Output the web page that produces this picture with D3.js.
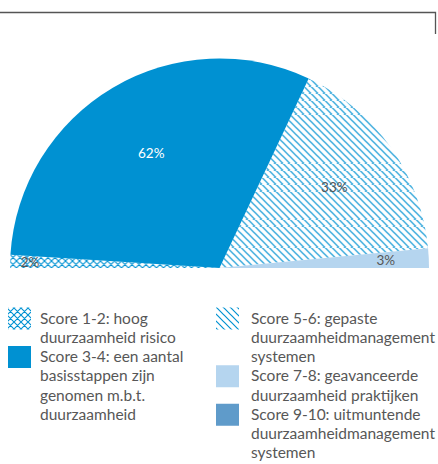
<!DOCTYPE html>
<html>
<head>
<meta charset="utf-8">
<script src="https://cdn.jsdelivr.net/npm/d3@7"></script>
<style>
  html, body { margin: 0; padding: 0; background: #fff; }
  svg { display: block; }
</style>
</head>
<body>
<svg id="chart" width="438" height="464"></svg>
<script>
// Score categories and share of respondents (%), half-pie
const categories = ["Score 1-2", "Score 3-4", "Score 5-6", "Score 7-8", "Score 9-10"];
const values = [2, 62, 33, 3, 0];
const legendLabels = [
  ["Score 1-2: hoog", "duurzaamheid risico"],
  ["Score 3-4: een aantal", "basisstappen zijn", "genomen m.b.t.", "duurzaamheid"],
  ["Score 5-6: gepaste", "duurzaamheidmanagement", "systemen"],
  ["Score 7-8: geavanceerde", "duurzaamheid praktijken"],
  ["Score 9-10: uitmuntende", "duurzaamheidmanagement", "systemen"]
];

const blue = "#0091d2";
const fills = ["url(#cross)", blue, "url(#diag)", "#b5d5ef", "#5f9bca"];
const labelColors = ["#555", "#fff", "#555", "#555", "#555"];
const labelRadius = [0.905, 0.64, 0.67, 0.795];
const textGray = "#575757";
const font = "Lato, 'Open Sans', sans-serif";

const svg = d3.select("#chart");
const defs = svg.append("defs");

// diagonal hatch "\"
const diag = defs.append("pattern").attr("id", "diag")
  .attr("patternUnits", "userSpaceOnUse").attr("width", 7).attr("height", 7);
diag.append("path").attr("d", "M-1,-1 L8,8 M-8,-1 L1,8 M6,-1 L15,8")
  .attr("stroke", blue).attr("stroke-width", 1.2).attr("fill", "none");

// cross hatch (diamond lattice)
const cross = defs.append("pattern").attr("id", "cross")
  .attr("patternUnits", "userSpaceOnUse").attr("width", 7).attr("height", 7);
cross.append("path").attr("d", "M-1,-1 L8,8 M-8,-1 L1,8 M6,-1 L15,8 M-1,8 L8,-1 M-8,8 L1,-1 M6,8 L15,-1")
  .attr("stroke", blue).attr("stroke-width", 1.1).attr("fill", "none");

// frame line at top
svg.append("path").attr("d", "M0,12.5 H435.5 V34")
  .attr("stroke", "#555").attr("stroke-width", 1.3).attr("fill", "none");

const cx = 219.5, cy = 268, R = 209.5;
const pie = d3.pie().sort(null).startAngle(-Math.PI / 2).endAngle(Math.PI / 2);
const arcs = pie(values);
const arc = d3.arc().innerRadius(0).outerRadius(R);

const g = svg.append("g").attr("transform", `translate(${cx},${cy})`);
g.selectAll("path.slice").data(arcs).join("path")
  .attr("class", "slice")
  .attr("d", arc)
  .attr("fill", (d, i) => fills[i]);

g.selectAll("text.lbl").data(arcs.filter(d => d.value > 0)).join("text")
  .attr("class", "lbl")
  .attr("transform", (d) => {
    const r = R * labelRadius[d.index];
    const c = d3.arc().innerRadius(r).outerRadius(r).centroid(d);
    return `translate(${c[0]},${c[1]})`;
  })
  .attr("text-anchor", "middle")
  .attr("dominant-baseline", "central")
  .attr("font-family", font)
  .attr("font-size", 13.5)
  .attr("fill", (d) => labelColors[d.index])
  .text((d) => d.value + "%");

// legend: two columns of continuous text lines
const baseline0 = 323.5, lineH = 19.25;
const cols = [
  { swatchX: 8, textX: 40, items: [0, 1] },
  { swatchX: 216, textX: 251, items: [2, 3, 4] }
];
const lg = svg.append("g");
cols.forEach(col => {
  let line = 0;
  col.items.forEach(i => {
    const by = baseline0 + line * lineH;
    lg.append("rect").attr("x", col.swatchX).attr("y", by - 16)
      .attr("width", 23).attr("height", 22).attr("fill", fills[i]);
    const t = lg.append("text")
      .attr("font-family", font).attr("font-size", 15.5).attr("fill", textGray);
    legendLabels[i].forEach((s, j) => {
      t.append("tspan").attr("x", col.textX).attr("y", by + j * lineH).text(s);
    });
    line += legendLabels[i].length;
  });
});
</script>
</body>
</html>
